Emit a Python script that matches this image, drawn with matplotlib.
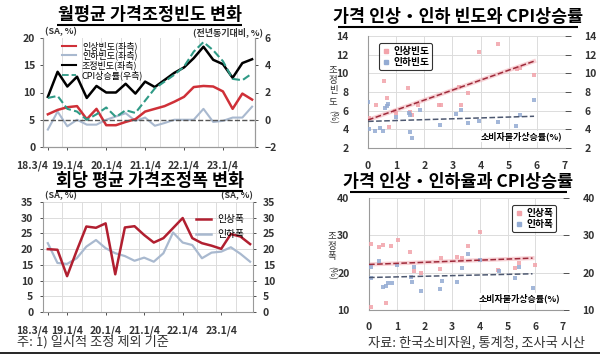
import matplotlib.pyplot as plt
import matplotlib.lines as mlines
import numpy as np

plt.rcParams['font.family'] = ['Noto Sans CJK KR', 'DejaVu Sans']

# ---- data ----
quarters = ['18.3/4', '18.4/4', '19.1/4', '19.2/4', '19.3/4', '19.4/4',
            '20.1/4', '20.2/4', '20.3/4', '20.4/4', '21.1/4', '21.2/4',
            '21.3/4', '21.4/4', '22.1/4', '22.2/4', '22.3/4', '22.4/4',
            '23.1/4', '23.2/4', '23.3/4', '23.4/4']
shown_quarters = ['18.3/4', '19.1/4', '20.1/4', '21.1/4', '22.1/4', '23.1/4']

# monthly average adjustment frequency (SA, %)
freq_up = [6.0, 6.8, 7.3, 7.5, 5.1, 7.0, 4.0, 4.0, 4.6, 5.1, 6.5, 7.0,
           7.5, 8.3, 9.2, 11.0, 11.2, 11.1, 10.2, 7.0, 9.8, 8.7]
freq_down = [3.2, 6.5, 3.8, 5.0, 4.1, 4.1, 5.0, 5.6, 6.2, 4.8, 5.4, 3.9,
             4.4, 5.0, 5.0, 5.0, 7.0, 4.6, 4.8, 5.4, 5.4, 7.4]
freq_adj = [9.2, 13.8, 11.1, 12.9, 9.0, 11.2, 10.0, 10.0, 11.6, 9.8, 12.0, 11.0,
            12.3, 13.6, 14.6, 16.3, 18.4, 16.0, 15.2, 12.7, 15.4, 16.1]
cpi = [1.6, 1.75, 0.8, 0.6, 0.0, 0.4, 0.9, 0.2, 0.7, 0.5, 1.4, 2.3,
       2.8, 3.3, 3.9, 5.0, 5.7, 5.1, 4.3, 3.0, 2.9, 3.4]

# average size per adjustment (SA, %)
size_up = [20.0, 19.8, 11.4, 19.5, 27.2, 26.8, 28.2, 12.0, 26.9, 27.3, 24.5, 22.1,
           23.5, 26.7, 29.9, 23.5, 21.9, 21.1, 20.1, 24.8, 24.0, 21.6]
size_down = [21.9, 15.6, 15.3, 17.1, 20.8, 22.9, 20.3, 18.7, 17.8, 16.3, 17.3, 16.0,
             18.7, 25.3, 22.1, 21.3, 17.1, 18.9, 19.2, 20.6, 18.5, 16.0]

# scatter: CPI inflation vs frequency
sc_up_x = [0.05, 0.3, 0.56, 0.66, 0.75, 0.96, 1.0, 1.43, 1.5, 1.55, 1.79, 2.53,
           2.6, 3.22, 3.29, 3.55, 3.94, 4.62, 5.3, 5.4, 5.89]
sc_up_y = [5.2, 6.6, 9.2, 7.4, 4.3, 6.0, 5.7, 8.4, 5.85, 5.5, 6.6, 6.6,
           6.6, 8.5, 6.6, 7.9, 12.3, 13.1, 10.5, 10.6, 9.8]
sc_down_x = [0.0, 0.02, 0.24, 0.44, 0.54, 0.62, 0.66, 0.72, 0.99, 1.47, 1.5, 1.5,
             1.58, 1.83, 2.55, 3.14, 3.29, 3.55, 3.94, 4.62, 5.26, 5.41, 5.89]
sc_down_y = [6.9, 4.0, 3.85, 4.1, 3.85, 6.3, 6.55, 6.7, 5.3, 5.75, 5.5, 3.75,
             3.1, 6.1, 4.5, 5.6, 6.1, 4.7, 4.85, 4.75, 4.4, 5.55, 7.1]
trend_x = [0.0, 5.9]
trend_freq_up = [5.0, 11.3]
trend_freq_down = [4.85, 5.4]

# scatter: CPI inflation vs size
sz_up_x = [0.06, 0.06, 0.37, 0.52, 0.61, 0.78, 1.03, 1.48, 1.63, 1.86, 2.56, 2.59,
           3.16, 3.34, 3.58, 4.0, 4.66, 5.26, 5.41, 5.98]
sz_up_y = [27.7, 10.9, 27.0, 27.3, 11.9, 27.2, 28.8, 25.5, 20.5, 20.0, 20.9, 24.0,
           24.1, 23.9, 27.2, 30.8, 20.7, 21.2, 22.5, 22.1]
sz_down_x = [0.06, 0.06, 0.37, 0.52, 0.6, 0.7, 0.82, 1.0, 1.51, 1.55, 1.63, 1.86,
             2.56, 2.62, 3.18, 3.34, 3.58, 4.02, 4.7, 5.26, 5.41, 5.92]
sz_down_y = [21.4, 18.5, 23.0, 16.1, 16.5, 17.1, 17.3, 22.1, 18.8, 17.4, 21.5, 15.2,
             15.6, 17.8, 17.4, 21.2, 25.0, 23.4, 20.5, 18.5, 21.5, 15.8]
trend_size_up = [22.2, 23.9]
trend_size_down = [18.7, 19.7]

RED = '#cf3038'
DRED = '#b11f30'
LBLUE = '#a9b9cf'
TEAL = '#2f9a86'
PINK = '#f2a3aa'
BLUE = '#93abd3'
GRID = '#dcdcdc'
SPINE = '#9a9a9a'
TICKC = '#333333'

W, H = 600, 357
fig = plt.figure(figsize=(6, 3.57), dpi=100)

# overlay in pixel units (origin top-left) for titles, rules and notes
over = fig.add_axes([0, 0, 1, 1], zorder=5)
over.set_xlim(0, W)
over.set_ylim(H, 0)
over.axis('off')


def box(x0, y0, x1, y1):
    return [x0 / W, 1 - y1 / H, (x1 - x0) / W, (y1 - y0) / H]


def style_axis(ax):
    for s in ax.spines.values():
        s.set_color(SPINE)
        s.set_linewidth(0.8)
    ax.tick_params(labelsize=7.5, colors=TICKC, length=2, width=0.6)
    for lab in ax.get_xticklabels() + ax.get_yticklabels():
        lab.set_fontweight('bold')


def underlined_title(x0, x1, base, s):
    over.text((x0 + x1) / 2, base, s, ha='center', va='baseline',
              fontsize=12.5, fontweight='bold', color='black')
    over.plot([x0, x1], [base + 5, base + 5], color='black', lw=1.5,
              solid_capstyle='butt', clip_on=False, zorder=10)


def stacked_label(x, y_top, chars):
    # vertical Korean label: each syllable upright, "(%)" turned
    for i, c in enumerate(chars):
        over.text(x, y_top + i * 10.5, c, fontsize=6.8,
                  ha='center', va='center', color=TICKC)
    over.text(x, y_top + len(chars) * 10.5 + 5, '(%)',
              fontsize=6.3, ha='center', va='center', rotation=-90, color=TICKC)


xq = np.arange(len(quarters))
tick_idx = [quarters.index(q) for q in shown_quarters]

# ---------------- top-left: frequency ----------------
ax1 = fig.add_axes(box(43, 38, 255, 147))
ax1.plot(xq, freq_down, color=LBLUE, lw=1.5)
ax1.plot(xq, freq_up, color=RED, lw=1.8)
ax1.plot(xq, freq_adj, color='black', lw=1.8)
ax1.axhline(5, color='#555555', ls='--', lw=1.0)
ax1.set_xlim(-0.5, 21.3)
ax1.set_ylim(0, 20)
ax1.set_yticks([0, 5, 10, 15, 20])
ax1.set_xticks(tick_idx)
ax1.set_xticklabels(shown_quarters)
ax1.set_xticks(np.arange(1.5, 21, 2), minor=True)
ax1.grid(True, axis='x', which='minor', color=GRID, lw=0.7)
ax1.tick_params(axis='x', which='both', length=0)
ax1.spines['top'].set_visible(False)
style_axis(ax1)
ax1.tick_params(axis='x', pad=8)
ax1.get_xticklabels()[0].set_horizontalalignment('right')

ax1r = ax1.twinx()
ax1r.plot(xq, cpi, color=TEAL, ls='--', lw=1.5)
ax1r.set_ylim(-2, 6)
ax1r.set_yticks([-2, 0, 2, 4, 6])
ax1r.spines['top'].set_visible(False)
style_axis(ax1r)
ax1r.tick_params(axis='y', pad=5)

h = [mlines.Line2D([], [], color=RED, lw=1.5),
     mlines.Line2D([], [], color=LBLUE, lw=1.5),
     mlines.Line2D([], [], color='black', lw=1.5),
     mlines.Line2D([], [], color=TEAL, lw=1.3, ls='--')]
ax1r.legend(h, ['인상빈도(좌측)', '인하빈도(좌측)', '조정빈도(좌측)', 'CPI상승률(우측)'],
            loc='upper left', bbox_to_anchor=(0.06, 1.03), frameon=False,
            fontsize=6.5, handlelength=1.6, handletextpad=0.6, labelspacing=0.0,
            borderpad=0.2)
over.text(45, 32, '(SA, %)', fontsize=6.5, fontweight='bold',
          color=TICKC, va='center')
over.text(263, 32, '(전년동기대비, %)', fontsize=6.5, fontweight='bold',
          color=TICKC, va='center', ha='right')

# ---------------- bottom-left: size ----------------
ax3 = fig.add_axes(box(43, 202, 253, 312))
ax3.plot(xq, size_down, color=LBLUE, lw=1.6)
ax3.plot(xq, size_up, color=DRED, lw=1.8)
ax3.set_xlim(-0.5, 21.3)
ax3.set_ylim(0, 35)
ax3.set_yticks(np.arange(0, 36, 5))
ax3.set_xticks(tick_idx)
ax3.set_xticklabels(shown_quarters)
ax3.set_xticks(np.arange(1.5, 21, 2), minor=True)
ax3.grid(True, axis='x', which='minor', color=GRID, lw=0.7)
ax3.grid(True, axis='y', which='major', color=GRID, lw=0.7)
ax3.tick_params(axis='x', which='both', length=0)
ax3.tick_params(axis='y', right=True, labelright=True)
ax3.spines['top'].set_visible(False)
style_axis(ax3)
ax3.tick_params(axis='x', pad=8)
ax3.tick_params(axis='y', pad=5)
ax3.get_xticklabels()[0].set_horizontalalignment('right')
h = [mlines.Line2D([], [], color=DRED, lw=1.8),
     mlines.Line2D([], [], color=LBLUE, lw=1.8)]
ax3.legend(h, ['인상폭', '인하폭'], loc='upper right', bbox_to_anchor=(1.0, 0.97),
           frameon=False, fontsize=7, handlelength=1.6, handletextpad=0.6,
           labelspacing=0.5)
over.text(45, 196, '(SA, %)', fontsize=6.5, fontweight='bold',
          color=TICKC, va='center')
over.text(253, 196, '(SA, %)', fontsize=6.5, fontweight='bold',
          color=TICKC, va='center', ha='right')

# ---------------- scatter panels ----------------


def scatter_panel(ax, ux, uy, dx, dy, tu, td, ylim, yticks, labels, loc, anchor):
    ax.scatter(ux, uy, s=8, marker='s', color=PINK, alpha=0.85, lw=0, zorder=3)
    ax.scatter(dx, dy, s=8, marker='s', color=BLUE, alpha=0.85, lw=0, zorder=3)
    ax.plot(trend_x, tu, color='#f4b5bb', lw=3.0, alpha=0.6, zorder=2)
    ax.plot(trend_x, tu, color='#9e2a3a', ls='--', lw=1.1, zorder=4)
    ax.plot(trend_x, td, color='#4d5870', ls='--', lw=1.1, zorder=4)
    ax.set_xlim(0, 7)
    ax.set_ylim(*ylim)
    ax.set_xticks(range(8))
    ax.set_yticks(yticks)
    ax.grid(True, color=GRID, lw=0.7)
    ax.set_axisbelow(True)
    ax.spines['top'].set_visible(False)
    ax.spines['right'].set_visible(False)
    style_axis(ax)
    ax.tick_params(axis='x', length=0, pad=9)
    ax.tick_params(axis='y', left=False, right=True, labelright=True, pad=10,
                   length=4)
    for lab in ax.get_yticklabels():
        lab.set_fontweight('bold')
    h = [mlines.Line2D([], [], color=PINK, marker='s', ls='', ms=3),
         mlines.Line2D([], [], color=BLUE, marker='s', ls='', ms=3)]
    leg = ax.legend(h, labels, loc=loc, bbox_to_anchor=anchor, frameon=True,
                    fontsize=7, handletextpad=0.4, labelspacing=0.1,
                    borderpad=0.3, handlelength=0.8, fancybox=True)
    leg.get_frame().set_edgecolor('black')
    leg.get_frame().set_linewidth(0.8)
    for t in leg.get_texts():
        t.set_fontweight('bold')
    ax.text(0.985, 0.06, '소비자물가상승률(%)', transform=ax.transAxes,
            ha='right', va='bottom', fontsize=6.5, fontweight='bold',
            color='black', zorder=5,
            bbox=dict(facecolor='white', edgecolor='none', pad=0.5))


ax2 = fig.add_axes(box(368, 36, 565, 148))
scatter_panel(ax2, sc_up_x, sc_up_y, sc_down_x, sc_down_y,
              trend_freq_up, trend_freq_down, (2, 14), range(2, 15, 2),
              ['인상빈도', '인하빈도'], 'upper left', (0.03, 0.98))
stacked_label(333, 70, ['조', '정', '빈', '도'])

ax4 = fig.add_axes(box(369, 198, 563, 310))
scatter_panel(ax4, sz_up_x, sz_up_y, sz_down_x, sz_down_y,
              trend_size_up, trend_size_down, (10, 40), [10, 20, 30, 40],
              ['인상폭', '인하폭'], 'upper right', (0.99, 0.98))
stacked_label(332, 236, ['조', '정', '폭'])

# ---------------- titles & notes ----------------
underlined_title(57, 242, 20, '월평균 가격조정빈도 변화')
underlined_title(338, 578, 22, '가격 인상・인하 빈도와 CPI상승률')
underlined_title(56, 243, 185.5, '회당 평균 가격조정폭 변화')
underlined_title(350, 567, 187, '가격 인상・인하율과 CPI상승률')

over.text(17, 342, '주: 1) 일시적 조정 제외 기준', fontsize=9.5,
          color='#333333', va='center')
over.text(585, 343, '자료: 한국소비자원, 통계청, 조사국 시산',
          fontsize=9.5, color='#333333', va='center', ha='right')
over.plot([0, W], [353, 353], color='black', lw=1.2, clip_on=False)

fig.savefig('out.png', dpi=100)
